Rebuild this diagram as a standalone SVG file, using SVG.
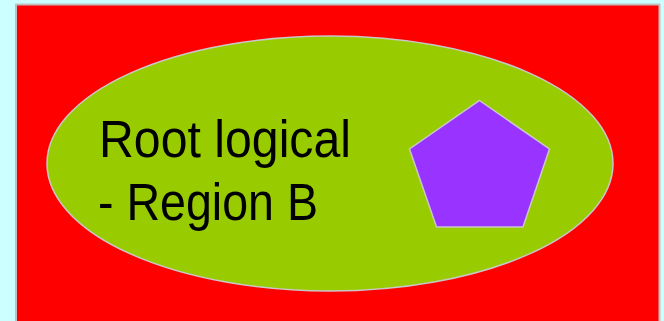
<svg xmlns="http://www.w3.org/2000/svg" width="664" height="321" viewBox="0 0 664 321">
<style>
.t{font-family:"Liberation Sans",Arial,sans-serif;font-size:51px;fill:#000}
</style>
<rect width="664" height="321" fill="#ccffff"/>
<g id="region">
<rect x="16" y="4.5" width="643.5" height="330" fill="#ff0000" stroke="#c0c0c0" stroke-width="2"/>
</g>
<g id="root">
<ellipse cx="330" cy="163.5" rx="283" ry="127.5" fill="#99cc00" stroke="#c8c8c8" stroke-width="1.5"/>
<text class="t" x="99" y="157" textLength="252" lengthAdjust="spacingAndGlyphs">Root logical</text>
<text class="t" x="98" y="220" textLength="220" lengthAdjust="spacingAndGlyphs">- Region B</text>
</g>
<g id="pentagon">
<polygon points="479.5,100.5 549.5,149 523,227 436.5,227 409.5,149" fill="#9933ff" stroke="#c8c8c8" stroke-width="1.5"/>
</g>
<g id="connectors"/>
</svg>
